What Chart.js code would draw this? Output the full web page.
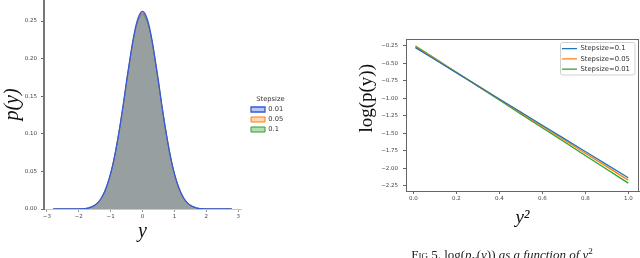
<!DOCTYPE html>
<html><head><meta charset="utf-8">
<script src="https://cdn.jsdelivr.net/npm/chart.js@4.4.0/dist/chart.umd.min.js"></script>
<style>
html,body{margin:0;padding:0;background:#fff;width:640px;height:258px;overflow:hidden;position:relative;}
#c1{position:absolute;left:0;top:0;}
#c2{position:absolute;left:330px;top:0;}
#cap{position:absolute;left:502px;top:248px;transform:translateX(-50%);white-space:nowrap;font-family:"Liberation Serif",serif;font-size:13px;line-height:13px;color:#222;}
#cap sub,#cap sup{font-size:70%;line-height:0;}
</style></head><body>
<canvas id="c1" width="320" height="258"></canvas>
<canvas id="c2" width="310" height="258"></canvas>
<div id="cap"><span style="font-variant:small-caps">Fig</span> 5. log(<i>p</i><sub><i>Y</i></sub>(<i>y</i>)) <i>as a function of y</i><sup>2</sup></div>
<script>
// ---------- Left panel data ----------
const densityX = [-2.8,-2.4,-2.0,-1.9,-1.8,-1.7,-1.6,-1.5,-1.4,-1.3,-1.2,-1.1,-1.0,-0.9,-0.8,-0.7,-0.6,-0.5,-0.4,-0.3,-0.2,-0.1,0,0.1,0.2,0.3,0.4,0.5,0.6,0.7,0.8,0.9,1.0,1.1,1.2,1.3,1.4,1.5,1.6,1.7,1.8,1.9,2.0,2.4,2.8];
const density001 = [0,0,0.0001,0.0003,0.0006,0.0013,0.0027,0.005,0.0085,0.014,0.022,0.033,0.047,0.065,0.087,0.112,0.140,0.170,0.198,0.224,0.245,0.258,0.263,0.258,0.245,0.224,0.198,0.170,0.140,0.112,0.087,0.065,0.047,0.033,0.022,0.014,0.0085,0.005,0.0027,0.0013,0.0006,0.0003,0.0001,0,0];
const density005 = [0,0,0.0001,0.0003,0.0006,0.0013,0.0027,0.005,0.0085,0.014,0.022,0.033,0.047,0.065,0.087,0.112,0.139,0.169,0.197,0.223,0.243,0.256,0.261,0.256,0.243,0.223,0.197,0.169,0.139,0.112,0.087,0.065,0.047,0.033,0.022,0.014,0.0085,0.005,0.0027,0.0013,0.0006,0.0003,0.0001,0,0];
const density01  = [0,0,0.0001,0.0003,0.0006,0.0013,0.0027,0.005,0.0085,0.014,0.022,0.033,0.047,0.065,0.087,0.112,0.139,0.168,0.196,0.222,0.242,0.254,0.259,0.254,0.242,0.222,0.196,0.168,0.139,0.112,0.087,0.065,0.047,0.033,0.022,0.014,0.0085,0.005,0.0027,0.0013,0.0006,0.0003,0.0001,0,0];
const leftLabels = ['0.01','0.05','0.1'];
const leftXTicks = [-3,-2,-1,0,1,2,3];
const leftYTicks = [0,0.05,0.10,0.15,0.20,0.25];

// ---------- Right panel data ----------
const ySquared = [0.01,0.1,0.2,0.3,0.4,0.5,0.6,0.7,0.8,0.9,1.0];
const logp01  = [-0.274,-0.443,-0.632,-0.820,-1.008,-1.196,-1.384,-1.573,-1.761,-1.949,-2.137];
const logp005 = [-0.262,-0.435,-0.628,-0.821,-1.013,-1.206,-1.399,-1.592,-1.785,-1.977,-2.170];
const logp001 = [-0.250,-0.428,-0.627,-0.825,-1.023,-1.222,-1.420,-1.618,-1.817,-2.015,-2.213];
const rightLabels = ['Stepsize=0.1','Stepsize=0.05','Stepsize=0.01'];
const rightXTicks = [0,0.2,0.4,0.6,0.8,1.0];
const rightYTicks = [-0.25,-0.50,-0.75,-1.00,-1.25,-1.50,-1.75,-2.00,-2.25];
const rightYTitle = 'log(p(y))';

Chart.defaults.font.family = 'DejaVu Sans';
Chart.defaults.color = '#333';
const minus = s => String(s).replace('-', '\u2212');
const fixTicks = arr => scale => { scale.ticks = arr.map(v => ({value: v})); };
const pts = (xs, ys) => xs.map((x, i) => ({x: x, y: ys[i]}));
const tickFont = {family: 'DejaVu Sans', size: 5.5};

function moveLegend(x, y) {
  return { id: 'moveLegend', afterLayout(chart) {
    const lg = chart.legend; if (!lg) return;
    const w = lg.width, h = lg.height;
    lg.left = x; lg.top = y; lg.right = x + w; lg.bottom = y + h;
  }};
}

// ---------- Left chart ----------
new Chart(document.getElementById('c1'), {
  type: 'line',
  data: { datasets: [
    {label: leftLabels[0], data: pts(densityX, density001), borderColor: 'rgb(50,90,225)', backgroundColor: 'rgba(60,100,220,0.36)', borderWidth: 1.3, fill: 'origin', pointRadius: 0, cubicInterpolationMode: 'monotone'},
    {label: leftLabels[1], data: pts(densityX, density005), borderColor: 'rgb(255,127,14)', backgroundColor: 'rgba(255,127,14,0.3)', borderWidth: 1, fill: 'origin', pointRadius: 0, cubicInterpolationMode: 'monotone'},
    {label: leftLabels[2], data: pts(densityX, density01), borderColor: 'rgb(44,160,44)', backgroundColor: 'rgba(44,160,44,0.35)', borderWidth: 1, fill: 'origin', pointRadius: 0, cubicInterpolationMode: 'monotone'}
  ]},
  options: {
    responsive: false, animation: false, devicePixelRatio: 1,
    layout: {padding: {left: 0, top: 0, right: 79, bottom: 0}},
    plugins: {
      tooltip: {enabled: false},
      legend: {
        position: 'chartArea', align: 'start',
        title: {display: true, text: 'Stepsize', font: {family: 'DejaVu Sans', size: 6.7, lineHeight: 1}, padding: 0, color: '#333'},
        labels: {boxWidth: 14, boxHeight: 5, padding: 3.3, font: {family: 'DejaVu Sans', size: 6.7}, color: '#333'}
      }
    },
    scales: {
      x: {
        type: 'linear', min: -3.09, max: 3.09,
        afterBuildTicks: fixTicks(leftXTicks),
        afterFit: s => { s.height = 49; s.paddingLeft = 0; s.paddingRight = 0; },
        ticks: {font: tickFont, color: '#444', padding: 1, maxRotation: 0, callback: v => minus(v)},
        grid: {display: true, drawOnChartArea: false, drawTicks: true, tickLength: 3, color: '#999'},
        border: {display: true, color: '#c8c8c8', width: 1},
        title: {display: true, text: 'y', font: {family: 'Liberation Serif', size: 20, style: 'italic'}, color: '#111', padding: {top: 0, bottom: 14}}
      },
      y: {
        type: 'linear', min: 0, max: 0.278,
        afterBuildTicks: fixTicks(leftYTicks),
        afterFit: s => { s.width = 44; s.paddingTop = 0; s.paddingBottom = 0; },
        ticks: {font: tickFont, color: '#444', padding: 4, callback: v => Number(v).toFixed(2)},
        grid: {display: true, drawOnChartArea: false, drawTicks: true, tickLength: 3, color: '#666'},
        border: {display: true, color: '#777', width: 2},
        title: {display: true, text: 'p(y)', font: {family: 'Liberation Serif', size: 20, style: 'italic'}, color: '#111', padding: {top: 1, bottom: 0}}
      }
    }
  },
  plugins: [moveLegend(247.7, 96.15)]
});

// ---------- Right chart ----------
const frameAndTitle = {
  id: 'frameAndTitle',
  afterDraw(chart) {
    const {ctx, chartArea: a} = chart;
    ctx.save();
    ctx.strokeStyle = '#666'; ctx.lineWidth = 1;
    ctx.beginPath();
    ctx.moveTo(a.left, Math.round(a.top) + 0.5); ctx.lineTo(a.right, Math.round(a.top) + 0.5);
    ctx.moveTo(Math.round(a.right) - 0.5, a.top); ctx.lineTo(Math.round(a.right) - 0.5, a.bottom);
    ctx.stroke();
    // legend frame
    ctx.strokeStyle = '#d0d0d0';
    ctx.beginPath();
    if (ctx.roundRect) ctx.roundRect(230.5, 42.5, 74.5, 32.5, 2); else ctx.rect(230.5, 42.5, 74.5, 32.5);
    ctx.stroke();
    // y title
    ctx.translate(36.7, 98.3); ctx.rotate(-Math.PI / 2);
    ctx.font = '19px "Liberation Serif"'; ctx.fillStyle = '#111';
    ctx.textAlign = 'center'; ctx.textBaseline = 'middle';
    ctx.fillText(rightYTitle, 0, 0);
    ctx.restore();
  }
};

new Chart(document.getElementById('c2'), {
  type: 'line',
  data: { datasets: [
    {label: rightLabels[0], data: pts(ySquared, logp01), borderColor: '#1f77b4', backgroundColor: '#1f77b4', borderWidth: 1.3, pointRadius: 0, fill: false},
    {label: rightLabels[1], data: pts(ySquared, logp005), borderColor: '#ff7f0e', backgroundColor: '#ff7f0e', borderWidth: 1.3, pointRadius: 0, fill: false},
    {label: rightLabels[2], data: pts(ySquared, logp001), borderColor: '#2ca02c', backgroundColor: '#2ca02c', borderWidth: 1.3, pointRadius: 0, fill: false}
  ]},
  options: {
    responsive: false, animation: false, devicePixelRatio: 1,
    layout: {padding: {left: 0, top: 39, right: 1, bottom: 0}},
    plugins: {
      tooltip: {enabled: false},
      legend: {
        position: 'chartArea', align: 'start',
        labels: {usePointStyle: true, pointStyle: 'line', pointStyleWidth: 15, padding: 3.4, font: {family: 'DejaVu Sans', size: 6.8}, color: '#333'}
      }
    },
    scales: {
      x: {
        type: 'linear', min: -0.034, max: 1.05,
        afterBuildTicks: fixTicks(rightXTicks),
        afterFit: s => { s.height = 67; s.paddingLeft = 0; s.paddingRight = 0; },
        ticks: {font: tickFont, color: '#444', padding: 1, maxRotation: 0, callback: v => Number(v).toFixed(1)},
        grid: {display: true, drawOnChartArea: false, drawTicks: true, tickLength: 3, color: '#666'},
        border: {display: true, color: '#666', width: 1},
        title: {display: true, text: 'y\u00B2', font: {family: 'Liberation Serif', size: 19, style: 'italic'}, color: '#111', padding: {top: 0, bottom: 28.6}}
      },
      y: {
        type: 'linear', min: -2.326, max: -0.15,
        afterBuildTicks: fixTicks(rightYTicks),
        afterFit: s => { s.width = 76; s.paddingTop = 0; s.paddingBottom = 0; },
        ticks: {font: tickFont, color: '#444', padding: 5, callback: v => minus(Number(v).toFixed(2))},
        grid: {display: true, drawOnChartArea: false, drawTicks: true, tickLength: 3, color: '#666'},
        border: {display: true, color: '#666', width: 1}
      }
    }
  },
  plugins: [moveLegend(228.6, 41.9), frameAndTitle]
});
</script>
</body></html>
